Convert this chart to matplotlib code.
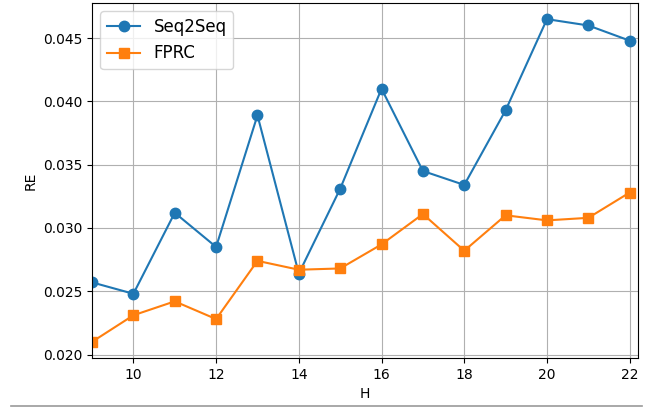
import numpy as np
import matplotlib.pyplot as plt
from matplotlib.lines import Line2D

# Datos
H = [9, 10, 11, 12, 13, 14, 15, 16, 17, 18, 19, 20, 21, 22]
seq2seq = [0.0257, 0.0248, 0.0312, 0.0285, 0.0389, 0.0264, 0.0331, 0.0410,
           0.0345, 0.0334, 0.0393, 0.0465, 0.0460, 0.0448]
fprc = [0.0210, 0.0231, 0.0242, 0.0228, 0.0274, 0.0267, 0.0268, 0.0287,
        0.0311, 0.0282, 0.0310, 0.0306, 0.0308, 0.0328]

fig = plt.figure(figsize=(6.55, 4.13), dpi=100)
ax = fig.add_axes([0.1405, 0.1332, 0.8335, 0.8595])
ax.plot(H, seq2seq, marker='o', markersize=7.5, label='Seq2Seq')
ax.plot(H, fprc, marker='s', markersize=7.5, label='FPRC')
ax.set_xlim(9, 22.2)
ax.set_xlabel('H')
ax.set_ylabel('RE')
ax.grid(True)
ax.legend(loc='upper left', fontsize=12)

# línea gris en la parte inferior
fig.add_artist(Line2D([11 / 655, 642 / 655], [7 / 413, 7 / 413],
                      color='#999999', linewidth=1.2))

fig.savefig('out.png', dpi=100)
